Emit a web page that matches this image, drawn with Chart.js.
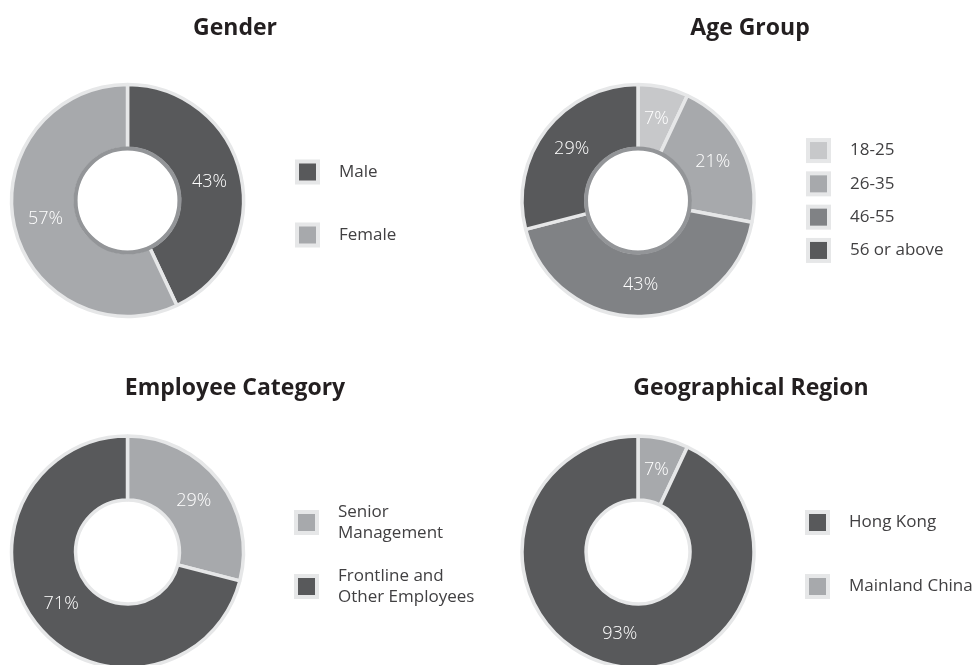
<!DOCTYPE html>
<html>
<head>
<meta charset="utf-8">
<script src="https://cdn.jsdelivr.net/npm/chart.js@4.4.0/dist/chart.umd.min.js"></script>
<style>
  html, body { margin: 0; padding: 0; background: #fff; overflow: hidden; }
  #wrap { position: relative; width: 980px; height: 665px; }
  #wrap canvas { position: absolute; }
</style>
</head>
<body>
<div id="wrap">
  <canvas id="chartGender" width="490" height="332" style="left:0;top:0"></canvas>
  <canvas id="chartAge" width="490" height="332" style="left:490px;top:0"></canvas>
  <canvas id="chartCategory" width="490" height="333" style="left:0;top:332px"></canvas>
  <canvas id="chartRegion" width="490" height="333" style="left:490px;top:332px"></canvas>
</div>
<script>
/* Datos */
const genderLabels = ['Male', 'Female'];
const genderValues = [43, 57];

const ageLabels = ['18-25', '26-35', '46-55', '56 or above'];
const ageValues = [7, 21, 43, 29];

const categoryLabels = [['Senior', 'Management'], ['Frontline and', 'Other Employees']];
const categoryValues = [29, 71];

const regionLabels = ['Mainland China', 'Hong Kong'];
const regionValues = [7, 93];

/* Colores */
const DARK = '#58595b';
const MIDDARK = '#808285';
const MID = '#a7a9ac';
const LIGHT = '#c7c8ca';
const EDGE = '#e6e7e8';

/* Titulo, leyenda, porcentajes y anillo interior */
const panelDecor = {
  id: 'panelDecor',
  afterDatasetsDraw(chart, args, opts) {
    const ctx = chart.ctx;
    const arcs = chart.getDatasetMeta(0).data;
    if (!arcs.length) return;
    const cx = arcs[0].x;
    const cy = arcs[0].y;
    const values = chart.data.datasets[0].data;
    const colors = chart.data.datasets[0].backgroundColor;

    ctx.save();

    if (opts.ringColor) {
      ctx.beginPath();
      ctx.arc(cx, cy, arcs[0].innerRadius, 0, Math.PI * 2);
      ctx.lineWidth = 4;
      ctx.strokeStyle = opts.ringColor;
      ctx.stroke();
    }

    ctx.font = '300 18px "Open Sans"';
    ctx.fillStyle = '#ffffff';
    ctx.textAlign = 'center';
    ctx.textBaseline = 'middle';
    arcs.forEach((arc, i) => {
      const p = arc.tooltipPosition();
      ctx.fillText(values[i] + '%', p.x, p.y);
    });

    ctx.font = 'bold 23px "Open Sans"';
    ctx.fillStyle = '#231f20';
    ctx.textBaseline = 'alphabetic';
    ctx.fillText(opts.title, opts.titleX, opts.titleY);

    let order = chart.data.labels.map((l, i) => i);
    if (opts.reverse) order.reverse();
    const y0 = cy + opts.legendShift - ((order.length - 1) * opts.rowGap) / 2;
    ctx.font = '17px "Open Sans"';
    ctx.textAlign = 'left';
    ctx.textBaseline = 'middle';
    order.forEach((i, k) => {
      const y = y0 + k * opts.rowGap;
      ctx.fillStyle = EDGE;
      ctx.fillRect(opts.legendX, y - 12.5, 25, 25);
      ctx.fillStyle = colors[i];
      ctx.fillRect(opts.legendX + 4, y - 8.5, 17, 17);
      const lines = [].concat(chart.data.labels[i]);
      ctx.fillStyle = '#414042';
      lines.forEach((t, j) => {
        ctx.fillText(t, opts.legendX + 44, y + (j - (lines.length - 1) / 2) * 21);
      });
    });

    ctx.restore();
  },
};

const padFor = (w, h, cx, cy, r) => {
  const half = Math.min(r, cy, h - cy);
  return { left: cx - r, right: w - cx - r, top: cy - half, bottom: h - cy - half };
};

const RADIUS = 116;

donutChart = (id, labels, values, colors, center, decor) => {
  const cv = document.getElementById(id);
  return new Chart(cv, {
    type: 'doughnut',
    plugins: [panelDecor],
    data: {
      labels: labels,
      datasets: [
        {
          data: values,
          backgroundColor: colors,
          borderColor: EDGE,
          borderWidth: 3.5,
          clip: false,
        },
      ],
    },
    options: {
      responsive: false,
      animation: false,
      events: [],
      radius: RADIUS,
      cutout: '44.8%',
      layout: { padding: padFor(cv.width, cv.height, center[0], center[1], RADIUS) },
      plugins: {
        legend: { display: false },
        tooltip: { enabled: false },
        panelDecor: decor,
      },
    },
  });
};

donutChart('chartGender', genderLabels, genderValues, [DARK, MID], [127.5, 200.5], {
  title: 'Gender', titleX: 235, titleY: 35,
  legendX: 295, rowGap: 63, legendShift: 3, ringColor: '#939598',
});

donutChart('chartAge', ageLabels, ageValues, [LIGHT, MID, MIDDARK, DARK], [148, 200.5], {
  title: 'Age Group', titleX: 260, titleY: 35,
  legendX: 316, rowGap: 33.3, legendShift: 0, ringColor: '#939598',
});

donutChart('chartCategory', categoryLabels, categoryValues, [MID, DARK], [127.5, 220], {
  title: 'Employee Category', titleX: 235, titleY: 63,
  legendX: 294, rowGap: 64, legendShift: 2.5,
});

donutChart('chartRegion', regionLabels, regionValues, [MID, DARK], [148, 220], {
  title: 'Geographical Region', titleX: 261, titleY: 63,
  legendX: 315, rowGap: 64, legendShift: 2.5, reverse: true,
});
</script>
</body>
</html>
